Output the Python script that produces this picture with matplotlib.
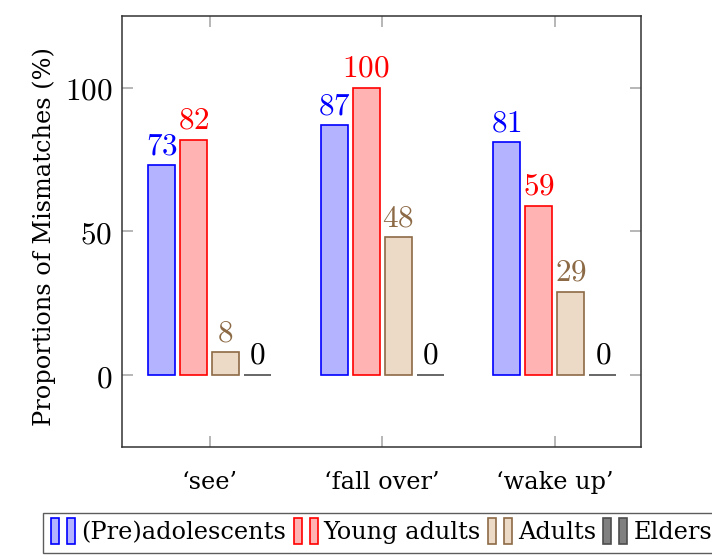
import matplotlib

matplotlib.use("Agg")
import matplotlib.pyplot as plt
import numpy as np
from matplotlib.legend_handler import HandlerBase
from matplotlib.patches import Rectangle

# data
verbs = ["\u2018see\u2019", "\u2018fall over\u2019", "\u2018wake up\u2019"]
groups = ["(Pre)adolescents", "Young adults", "Adults", "Elders"]
preadolescents = [73, 87, 81]
young_adults = [82, 100, 59]
adults = [8, 48, 29]
elders = [0, 0, 0]
y_ticks = [0, 50, 100]

series = [preadolescents, young_adults, adults, elders]
fills = ["#b3b3ff", "#ffb3b3", "#ecd9c6", "#808080"]
edges = ["#0000ff", "#ff0000", "#8c6a45", "#4d4d4d"]
label_colors = ["#0000ff", "#ff0000", "#8c6a45", "#000000"]

plt.rcParams["font.family"] = ["DejaVu Serif"]
plt.rcParams["mathtext.fontset"] = "cm"
TEXT_SIZE = 17.3
NUM_SIZE = 22.5


class TwoBars(HandlerBase):
    # pgfplots style legend image: two thin bars side by side
    def create_artists(self, legend, orig_handle, xdescent, ydescent,
                       width, height, fontsize, trans):
        bw = width / 3
        out = []
        for x0 in (0, width - bw):
            r = Rectangle((x0 - xdescent, -ydescent - height * 0.2), bw, height * 1.4,
                          facecolor=orig_handle.get_facecolor(),
                          edgecolor=orig_handle.get_edgecolor(),
                          linewidth=1.2, transform=trans)
            out.append(r)
        return out


fig = plt.figure(figsize=(7.12, 5.58), dpi=100)
ax = fig.add_axes([122 / 712, 1 - 447 / 558, (641 - 122) / 712, (447 - 16) / 558])

x = np.arange(len(verbs))
step = 0.1855
width = 0.1565
handles = []
for i, vals in enumerate(series):
    pos = x + (i - 1.5) * step
    bars = ax.bar(pos, vals, width, color=fills[i], edgecolor=edges[i], linewidth=1.2)
    handles.append(bars[0])
    for p, v in zip(pos, vals):
        ax.annotate(f"${v}$", (p, v), xytext=(0, 3), textcoords="offset points",
                    ha="center", va="bottom", fontsize=NUM_SIZE, color=label_colors[i])

ax.set_xlim(-0.507, 2.5)
ax.set_ylim(-25, 125)
ax.set_xticks(x)
ax.set_xticklabels(verbs, fontsize=TEXT_SIZE)
ax.set_yticks(y_ticks)
ax.set_yticklabels([f"${t}$" for t in y_ticks], fontsize=NUM_SIZE)
ax.tick_params(direction="in", length=8, width=1.2, color="#aaaaaa",
               top=True, right=True)
ax.tick_params(axis="x", pad=17)
ax.tick_params(axis="y", pad=7)
for s in ax.spines.values():
    s.set_color("#333333")
    s.set_linewidth(1.1)
ax.set_ylabel("Proportions of Mismatches (%)", fontsize=TEXT_SIZE)
ax.yaxis.set_label_coords(-0.128, 0.488)

leg = fig.legend(handles, groups, handler_map={h: TwoBars() for h in handles},
                 loc="upper left", bbox_to_anchor=(43 / 712, 1 - 513 / 558),
                 ncol=4, fontsize=TEXT_SIZE, frameon=True, fancybox=False,
                 handlelength=1.0, handleheight=0.8, handletextpad=0.25,
                 columnspacing=0.3, borderpad=0.35, borderaxespad=0)
leg.get_frame().set_edgecolor("#333333")
leg.get_frame().set_linewidth(1.0)

fig.savefig("out.png", dpi=100)
